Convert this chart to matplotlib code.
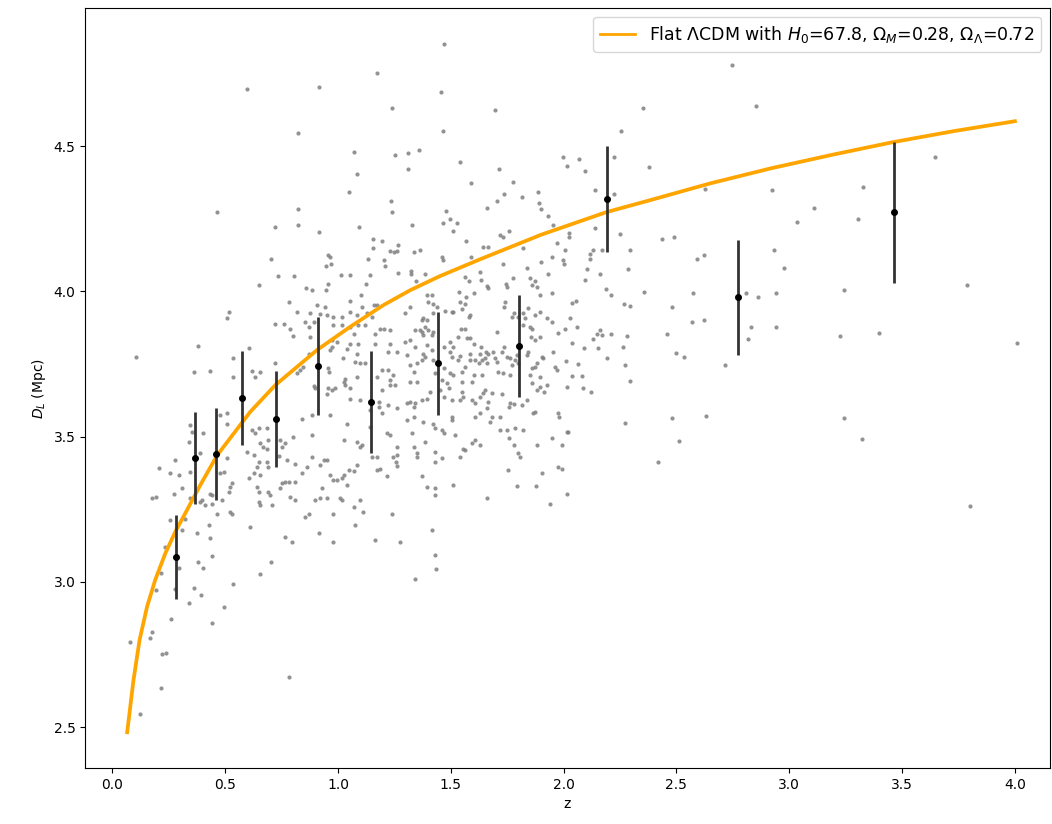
import matplotlib
matplotlib.use("Agg")
import matplotlib.pyplot as plt
import numpy as np

# supernova-like sample (z, log10 D_L)
points_low_z = [
    (0.294, 3.046), (0.380, 3.069), (0.442, 3.089), (0.402, 3.046), (0.704, 3.069), (0.653, 3.027),
    (0.534, 2.991), (1.342, 3.009), (0.217, 3.029), (0.193, 2.972), (0.276, 2.974), (0.363, 2.980),
    (0.394, 2.954), (0.338, 2.926), (0.496, 2.912), (0.442, 2.859), (0.261, 2.871), (0.176, 2.828),
    (0.168, 2.805), (0.077, 2.792), (0.220, 2.750), (0.239, 2.756), (0.781, 2.673), (0.216, 2.635),
    (0.124, 2.545),
    (0.944, 3.947), (1.106, 3.947), (0.515, 3.930), (0.508, 3.907), (0.818, 3.930), (0.877, 3.924),
    (0.921, 3.922), (0.951, 3.918), (0.980, 3.912), (1.017, 3.912), (1.054, 3.930), (1.084, 3.918),
    (1.128, 3.924), (1.150, 3.912), (0.722, 3.889), (0.759, 3.889), (0.788, 3.872), (0.855, 3.895),
    (0.892, 3.895), (0.980, 3.884), (1.017, 3.884), (1.054, 3.878), (1.091, 3.884), (1.121, 3.884),
    (1.202, 3.870), (1.187, 3.870), (1.231, 3.867), (1.069, 3.855), (0.803, 3.846), (0.877, 3.844),
    (0.870, 3.878), (0.973, 3.832), (0.995, 3.826), (1.054, 3.820), (1.091, 3.820), (1.165, 3.820),
    (1.231, 3.820), (1.165, 3.855), (0.973, 3.809), (0.966, 3.798), (1.040, 3.800), (1.084, 3.786),
    (1.224, 3.792), (1.261, 3.792), (0.382, 3.811), (0.604, 3.804), (0.537, 3.769), (0.537, 3.704),
    (0.363, 3.723), (0.434, 3.726), (0.106, 3.775), (0.619, 3.726), (0.633, 3.706), (0.656, 3.723),
    (0.722, 3.752), (0.833, 3.729), (0.847, 3.740), (0.818, 3.718), (0.870, 3.786), (0.958, 3.735),
    (0.962, 3.723), (1.021, 3.769), (1.076, 3.757), (1.099, 3.752), (1.121, 3.752), (1.032, 3.700),
    (1.025, 3.689), (1.032, 3.677), (1.054, 3.666), (1.084, 3.706), (1.195, 3.729), (1.172, 3.706),
    (1.195, 3.660), (1.231, 3.694), (1.246, 3.712), (1.231, 3.677), (1.254, 3.677), (1.224, 3.729),
    (0.958, 3.666), (0.973, 3.660), (0.988, 3.669), (0.892, 3.674), (0.899, 3.666), (0.951, 3.648),
    (1.054, 3.631), (1.099, 3.626), (1.180, 3.620), (1.180, 3.603), (1.224, 3.608), (1.195, 3.580),
    (1.261, 3.597), (1.144, 3.591), (1.144, 3.532), (0.884, 3.574), (0.840, 3.562), (0.803, 3.499),
    (0.884, 3.505), (0.966, 3.574), (1.040, 3.545), (1.025, 3.488), (1.084, 3.482), (1.099, 3.465),
    (1.106, 3.471), (1.150, 3.430), (1.172, 3.430), (1.217, 3.511), (1.231, 3.505), (1.261, 3.465),
    (1.261, 3.436), (1.246, 3.430), (1.258, 3.413), (1.261, 3.399), (1.172, 3.385), (1.217, 3.364),
    (1.187, 3.390), (1.239, 3.235), (1.165, 3.144), (1.276, 3.138), (1.113, 3.241), (1.076, 3.195),
    (1.069, 3.258), (1.099, 3.281), (1.047, 3.385), (1.069, 3.382), (1.084, 3.402), (1.025, 3.367),
    (1.017, 3.356), (0.995, 3.350), (1.040, 3.333), (1.017, 3.281), (1.010, 3.287), (0.980, 3.235),
    (0.966, 3.367), (0.980, 3.350), (0.936, 3.419), (0.951, 3.419), (0.921, 3.402), (0.884, 3.430),
    (0.862, 3.396), (0.840, 3.373), (0.929, 3.322), (0.951, 3.287), (0.921, 3.287), (0.899, 3.281),
    (0.870, 3.235), (0.855, 3.224), (0.811, 3.407), (0.811, 3.344), (0.766, 3.344), (0.781, 3.344),
    (0.774, 3.419), (0.737, 3.433), (0.752, 3.465), (0.744, 3.488), (0.766, 3.477), (0.692, 3.488),
    (0.685, 3.459), (0.670, 3.465), (0.656, 3.477), (0.685, 3.528), (0.633, 3.511), (0.648, 3.528),
    (0.619, 3.522), (0.597, 3.448), (0.626, 3.436), (0.648, 3.413), (0.641, 3.396), (0.685, 3.413),
    (0.692, 3.396), (0.656, 3.367), (0.604, 3.356), (0.626, 3.373), (0.641, 3.327), (0.648, 3.310),
    (0.692, 3.310), (0.700, 3.299), (0.752, 3.339), (0.744, 3.322), (0.788, 3.293), (0.811, 3.281),
    (0.648, 3.276), (0.656, 3.264), (0.707, 3.264), (0.523, 3.327), (0.530, 3.341), (0.515, 3.310),
    (0.523, 3.241), (0.530, 3.235), (0.486, 3.281), (0.434, 3.304), (0.442, 3.299), (0.478, 3.373),
    (0.493, 3.379), (0.508, 3.425), (0.508, 3.545), (0.478, 3.574), (0.508, 3.580), (0.404, 3.511),
    (0.390, 3.442), (0.338, 3.482), (0.345, 3.540), (0.353, 3.516), (0.279, 3.419), (0.294, 3.367),
    (0.257, 3.373), (0.205, 3.391), (0.345, 3.379), (0.272, 3.304), (0.309, 3.322), (0.345, 3.287),
    (0.176, 3.287), (0.195, 3.293), (0.397, 3.281), (0.390, 3.276), (0.412, 3.264), (0.442, 3.269),
    (0.464, 3.235), (0.257, 3.214), (0.309, 3.178), (0.323, 3.218), (0.235, 3.121), (0.375, 3.167),
    (0.427, 3.195), (0.434, 3.152), (0.611, 3.190), (0.766, 3.155), (0.796, 3.138), (0.914, 3.167),
    (0.980, 3.138),
]

points_top_left = [
    (1.172, 4.752), (0.597, 4.697), (0.914, 4.704), (1.240, 4.631), (0.821, 4.547), (1.069, 4.480),
    (1.255, 4.468), (1.085, 4.403), (1.047, 4.342), (1.233, 4.312), (1.240, 4.275), (0.464, 4.275),
    (0.821, 4.282), (0.721, 4.221), (0.821, 4.227), (1.093, 4.221), (0.914, 4.203), (1.155, 4.179),
    (1.195, 4.173), (1.155, 4.148), (1.264, 4.160), (1.230, 4.140), (1.247, 4.135), (1.262, 4.138),
    (0.704, 4.112), (0.954, 4.125), (0.963, 4.118), (1.131, 4.112), (1.202, 4.107), (0.945, 4.088),
    (0.969, 4.094), (1.209, 4.088), (1.264, 4.064), (0.735, 4.052), (0.805, 4.052), (1.014, 4.058),
    (1.054, 4.058), (1.140, 4.058), (0.650, 4.022), (1.124, 4.027), (0.954, 4.027), (0.859, 4.010),
    (0.883, 4.004), (0.945, 4.004), (1.100, 3.986), (0.783, 3.962), (1.054, 3.968), (0.907, 3.953),
    (1.158, 3.953), (1.172, 3.953),
    (1.472, 4.853), (1.457, 4.685), (1.698, 4.625), (2.351, 4.631), (1.465, 4.553), (2.256, 4.553),
    (1.310, 4.475), (1.357, 4.487), (1.310, 4.421), (1.543, 4.445), (1.714, 4.421), (1.776, 4.378),
    (1.589, 4.373), (1.999, 4.463), (2.070, 4.457), (2.017, 4.432), (2.094, 4.415), (2.225, 4.463),
    (2.380, 4.427), (2.225, 4.336), (2.140, 4.349), (1.738, 4.336), (1.815, 4.324), (1.705, 4.312),
    (1.886, 4.342), (1.893, 4.306), (1.900, 4.282), (1.931, 4.258), (1.660, 4.288), (1.481, 4.276),
    (1.496, 4.251), (1.527, 4.234), (1.465, 4.234), (1.326, 4.228), (1.952, 4.228), (2.140, 4.217),
]

points_mid_z = [
    (1.512, 4.208), (1.716, 4.194), (1.731, 4.186), (1.760, 4.208), (1.567, 4.173), (1.642, 4.153),
    (1.667, 4.153), (1.822, 4.148), (1.335, 4.136), (1.364, 4.142), (2.007, 4.142), (2.022, 4.188),
    (2.022, 4.201), (1.970, 4.165), (2.132, 4.142), (2.169, 4.142), (2.250, 4.197), (2.295, 4.142),
    (1.460, 4.118), (1.464, 4.108), (1.589, 4.119), (1.731, 4.096), (1.837, 4.082), (1.900, 4.100),
    (1.948, 4.119), (1.999, 4.108), (2.000, 4.096), (1.930, 4.059), (2.103, 4.076), (2.162, 4.059),
    (2.287, 4.076), (2.117, 4.130), (2.117, 4.113), (1.323, 4.070), (1.325, 4.059), (1.386, 4.059),
    (1.344, 4.035), (1.565, 4.050), (1.579, 4.035), (1.630, 4.067), (1.635, 4.039), (1.660, 4.018),
    (1.667, 4.010), (1.743, 4.027), (1.749, 4.014), (1.775, 4.045), (1.852, 4.045), (1.874, 4.035),
    (1.859, 4.022), (1.881, 4.014), (1.896, 3.987), (1.948, 3.993), (1.603, 3.993), (1.537, 3.998),
    (1.568, 3.981), (1.564, 3.958), (1.394, 3.987), (1.416, 3.987), (2.187, 4.007), (2.209, 3.987),
    (2.095, 4.039), (2.358, 3.998), (2.268, 3.958), (2.295, 3.949), (2.039, 3.960), (2.054, 3.968),
    (2.029, 3.910), (2.061, 3.878), (2.008, 3.872), (2.162, 3.867), (2.169, 3.849), (2.147, 3.855),
    (2.209, 3.855), (2.129, 3.836), (2.091, 3.806), (2.154, 3.806), (2.194, 3.769), (2.265, 3.809),
    (2.280, 3.846), (2.274, 3.746), (2.295, 3.691), (2.272, 3.548), (2.120, 3.655), (2.085, 3.666),
    (2.080, 3.708), (2.017, 3.671), (2.036, 3.708), (2.063, 3.750), (2.010, 3.761), (1.955, 3.792),
    (2.039, 3.824), (1.977, 3.857), (1.948, 3.895), (1.925, 3.907), (1.896, 3.930), (1.874, 3.918),
    (1.841, 3.943), (1.829, 3.907), (1.852, 3.878), (1.859, 3.872), (1.818, 3.885), (1.896, 3.844),
    (1.874, 3.832), (1.855, 3.844), (1.910, 3.769), (1.903, 3.775), (1.884, 3.752), (1.874, 3.740),
    (1.859, 3.735), (1.896, 3.706), (1.896, 3.671), (1.914, 3.655), (1.881, 3.660), (1.859, 3.685),
    (1.852, 3.712), (1.837, 3.781), (1.844, 3.792), (1.822, 3.924), (1.800, 3.912), (1.778, 3.924),
    (1.771, 3.912), (1.736, 3.947), (1.741, 3.964), (1.704, 3.861), (1.736, 3.809), (1.749, 3.775),
    (1.763, 3.769), (1.793, 3.781), (1.785, 3.763), (1.800, 3.752), (1.771, 3.746), (1.726, 3.792),
    (1.689, 3.792), (1.711, 3.723), (1.733, 3.718), (1.763, 3.712), (1.726, 3.648), (1.682, 3.651),
    (1.645, 3.651), (1.652, 3.660), (1.630, 3.637), (1.667, 3.620), (1.608, 3.614), (1.593, 3.626),
    (1.756, 3.603), (1.763, 3.614), (1.781, 3.612), (1.837, 3.626), (1.815, 3.608), (1.866, 3.580),
    (1.874, 3.586), (1.704, 3.757), (1.697, 3.769), (1.660, 3.752), (1.652, 3.769), (1.638, 3.763),
    (1.657, 3.792), (1.667, 3.786), (1.630, 3.786), (1.633, 3.809), (1.601, 3.820), (1.586, 3.838),
    (1.583, 3.786), (1.586, 3.763), (1.542, 3.777), (1.534, 3.763), (1.564, 3.740), (1.549, 3.723),
    (1.512, 3.809), (1.497, 3.792), (1.505, 3.775), (1.468, 3.809), (1.497, 3.826), (1.544, 3.872),
    (1.564, 3.872), (1.574, 3.838), (1.534, 3.844), (1.586, 3.918), (1.579, 3.912), (1.542, 3.964),
    (1.549, 3.941), (1.512, 3.930), (1.505, 3.928), (1.475, 3.932), (1.423, 3.926), (1.401, 3.964),
    (1.423, 3.958), (1.438, 3.947), (1.320, 3.947), (1.298, 3.924), (1.379, 3.907), (1.372, 3.901),
    (1.394, 3.901), (1.386, 3.878), (1.401, 3.867), (1.372, 3.861), (1.342, 3.867), (1.364, 3.867),
    (1.320, 3.832), (1.298, 3.826), (1.342, 3.809), (1.394, 3.815), (1.379, 3.849), (1.416, 3.849),
    (1.423, 3.861), (1.379, 3.786), (1.386, 3.775), (1.372, 3.763), (1.350, 3.752), (1.306, 3.781),
    (1.416, 3.798), (1.423, 3.763), (1.431, 3.718), (1.468, 3.735), (1.497, 3.718), (1.460, 3.694),
    (1.512, 3.712), (1.483, 3.683), (1.490, 3.666), (1.549, 3.689), (1.549, 3.655), (1.556, 3.637),
    (1.542, 3.626), (1.601, 3.712), (1.593, 3.689), (1.638, 3.712), (1.320, 3.746), (1.335, 3.723),
    (1.320, 3.689), (1.350, 3.689), (1.394, 3.631), (1.409, 3.655), (1.372, 3.626), (1.320, 3.620),
    (1.342, 3.614), (1.335, 3.603), (1.306, 3.617), (1.335, 3.568), (1.306, 3.557), (1.379, 3.551),
    (1.423, 3.545), (1.431, 3.528), (1.460, 3.522), (1.468, 3.511), (1.505, 3.568), (1.505, 3.557),
    (1.519, 3.505), (1.328, 3.511), (1.335, 3.465), (1.350, 3.442), (1.350, 3.430), (1.386, 3.482),
    (1.431, 3.448), (1.431, 3.413), (1.460, 3.425), (1.372, 3.364), (1.394, 3.327), (1.431, 3.322),
    (1.431, 3.299), (1.512, 3.333), (1.542, 3.430), (1.556, 3.459), (1.564, 3.453), (1.593, 3.477),
    (1.608, 3.488), (1.630, 3.471), (1.608, 3.568), (1.630, 3.580), (1.660, 3.600), (1.682, 3.568),
    (1.674, 3.551), (1.719, 3.522), (1.749, 3.522), (1.756, 3.494), (1.778, 3.471), (1.807, 3.430),
    (1.800, 3.442), (1.785, 3.528), (1.822, 3.522), (1.925, 3.677), (1.962, 3.740), (1.970, 3.729),
    (1.977, 3.580), (1.981, 3.568), (2.014, 3.516), (2.020, 3.516), (1.948, 3.494), (1.881, 3.471),
    (1.903, 3.373), (1.977, 3.396), (1.992, 3.387), (2.014, 3.304), (1.992, 3.471), (1.793, 3.330),
    (1.878, 3.330), (1.660, 3.287), (1.753, 3.385), (1.719, 3.568), (1.505, 3.626), (1.468, 3.637),
    (1.453, 3.660), (1.608, 3.765), (1.623, 3.752),
    (1.939, 3.268), (1.419, 3.178), (1.428, 3.093), (1.435, 3.045),
]

points_high_z = [
    (2.745, 4.781), (2.853, 4.638), (3.646, 4.463), (2.627, 4.354), (2.925, 4.349), (3.328, 4.360),
    (3.110, 4.288), (3.033, 4.239), (3.303, 4.251), (2.435, 4.179), (2.489, 4.186), (2.590, 4.112),
    (2.622, 4.124), (2.932, 4.142), (2.978, 4.082), (2.575, 3.993), (2.482, 3.945), (2.568, 3.895),
    (2.622, 3.901), (2.457, 3.853), (2.498, 3.788), (2.535, 3.775), (2.715, 3.746), (2.808, 3.993),
    (2.863, 3.981), (2.940, 3.993), (2.830, 3.878), (2.816, 3.835), (2.940, 3.878), (3.242, 4.004),
    (3.226, 3.847), (3.398, 3.858), (3.786, 4.022), (4.010, 3.823), (2.482, 3.565), (2.630, 3.571),
    (2.513, 3.486), (2.420, 3.412), (3.242, 3.565), (3.321, 3.491), (3.801, 3.262),
]

# binned means with error bars
bin_z = [0.283, 0.368, 0.461, 0.576, 0.726, 0.913, 1.147, 1.444, 1.803, 2.193, 2.773, 3.464]
bin_dl = [3.085, 3.426, 3.440, 3.633, 3.560, 3.743, 3.619, 3.753, 3.812, 4.318, 3.980, 4.273]
bin_err = [0.145, 0.157, 0.158, 0.162, 0.165, 0.168, 0.175, 0.177, 0.175, 0.184, 0.198, 0.243]

# model curve
model_z = [0.066, 0.094, 0.121, 0.154, 0.190, 0.235, 0.279, 0.331, 0.390, 0.465, 0.611, 0.722,
           0.907, 1.054, 1.202, 1.320, 1.450, 1.628, 1.900, 2.190, 2.383, 2.650, 2.920, 3.200,
           3.460, 3.730, 4.000]
model_dl = [2.482, 2.662, 2.800, 2.914, 3.006, 3.098, 3.172, 3.247, 3.333, 3.436, 3.585, 3.677,
            3.798, 3.878, 3.953, 4.004, 4.052, 4.110, 4.195, 4.273, 4.314, 4.372, 4.424, 4.472,
            4.514, 4.552, 4.586]

pts = np.array(points_low_z + points_top_left + points_mid_z + points_high_z)

fig, ax = plt.subplots(figsize=(10.52, 8.24), dpi=100)
fig.subplots_adjust(left=0.081, right=0.998, top=0.990, bottom=0.068)

ax.scatter(pts[:, 0], pts[:, 1], s=9, color='gray', alpha=0.85, linewidths=0, zorder=1)
ax.plot(model_z, model_dl, color='orange', lw=2.7, zorder=2,
        label=r'Flat $\Lambda$CDM with $H_0$=67.8, $\Omega_M$=0.28, $\Omega_\Lambda$=0.72')
ax.errorbar(bin_z, bin_dl, yerr=bin_err, fmt='o', color='k', ms=4,
            ecolor='#333333', elinewidth=2, zorder=3)

ax.set_xlim(-0.12, 4.155)
ax.set_ylim(2.359, 4.975)
ax.set_xticks(np.arange(0, 4.01, 0.5))
ax.set_yticks([2.5, 3.0, 3.5, 4.0, 4.5])
ax.set_xlabel('z')
ax.set_ylabel(r'$D_L$ (Mpc)')
leg = ax.legend(loc='upper right', fontsize=12.5)
leg.get_lines()[0].set_linewidth(2)

fig.savefig('out.png', dpi=100)
